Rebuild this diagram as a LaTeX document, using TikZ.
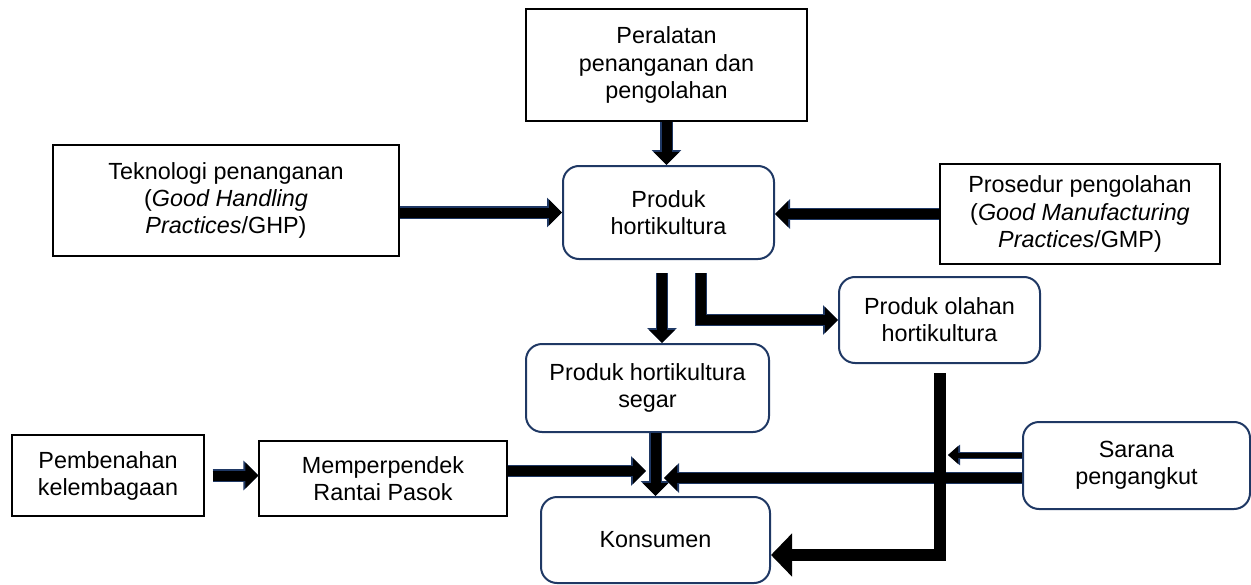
\documentclass[tikz,border=0pt]{standalone}
\usepackage{fontspec}
\setmainfont{Liberation Sans}
\usetikzlibrary{arrows.meta,calc}
\definecolor{navyline}{RGB}{31,56,100}

\begin{document}
\begin{tikzpicture}[
		every node/.style={align=center, inner sep=0pt, font=\fontsize{13.3}{15.4}\selectfont},
		sqbox/.style={rectangle, draw=black, line width=0.6pt},
		rbox/.style={rectangle, rounded corners=0.32cm, draw=navyline, line width=0.04cm},
		flow/.style={draw=black, line width=0.2cm, -{Triangle[width=0.5cm, length=0.26cm]},
			preaction={draw=navyline, line width=0.25cm, -{Triangle[width=0.58cm, length=0.3cm]}}},
		thinflow/.style={draw=black, line width=0.1cm, -{Triangle[width=0.34cm, length=0.2cm]},
			preaction={draw=navyline, line width=0.14cm, -{Triangle[width=0.4cm, length=0.24cm]}}},
		bigflow/.style={draw=black, line width=0.24cm, -{Triangle[width=0.84cm, length=0.42cm]}}
	]
  \useasboundingbox (0cm, 0cm) rectangle (25.02cm, 11.68cm);
  % boxes
  \node (peralatan) [sqbox, minimum width=5.62cm, minimum height=2.24cm] at (13.33cm, 10.38cm) {Peralatan\\penanganan dan\\pengolahan};
  \node (teknologi) [sqbox, minimum width=6.92cm, minimum height=2.22cm] at (4.52cm, 7.67cm) {Teknologi penanganan\\(\textit{Good Handling}\\\textit{Practices}/GHP)};
  \node (produk) [rbox, minimum width=4.22cm, minimum height=1.86cm] at (13.37cm, 7.43cm) {Produk\\hortikultura};
  \node (prosedur) [sqbox, minimum width=5.6cm, minimum height=2cm] at (21.6cm, 7.4cm) {Prosedur pengolahan\\(\textit{Good Manufacturing}\\\textit{Practices}/GMP)};
  \node (olahan) [rbox, minimum width=4.02cm, minimum height=1.72cm] at (18.79cm, 5.28cm) {Produk olahan\\hortikultura};
  \node (segar) [rbox, minimum width=4.86cm, minimum height=1.76cm] at (12.95cm, 3.92cm) {Produk hortikultura\\segar};
  \node (pembenahan) [sqbox, minimum width=3.84cm, minimum height=1.62cm] at (2.16cm, 2.17cm) {Pembenahan\\kelembagaan};
  \node (memperpendek) [sqbox, minimum width=4.96cm, minimum height=1.5cm] at (7.66cm, 2.11cm) {Memperpendek\\Rantai Pasok};
  \node (sarana) [rbox, minimum width=4.54cm, minimum height=1.74cm] at (22.73cm, 2.37cm) {Sarana\\pengangkut};
  \node (konsumen) [rbox, minimum width=4.58cm, minimum height=1.72cm] at (13.11cm, 0.88cm) {Konsumen};
  % arrow ends
  \coordinate (p_split) at ($(produk.south)+(-0.13cm, -0.26cm)$);
  \coordinate (p_side) at ($(produk.south)+(0.65cm, -0.26cm)$);
  \coordinate (m_in) at ($(konsumen.north)+(-0.19cm, 0.5cm)$);
  \coordinate (s_in) at ($(konsumen.north)+(0.17cm, 0.36cm)$);
  \coordinate (s_stop) at ($(olahan.south |- sarana.west)+(0.17cm, 0.21cm)$);
  \coordinate (o_start) at ($(olahan.south)+(0cm, -0.18cm)$);
  \coordinate (k_side) at ($(konsumen.east)+(0cm, -0.3cm)$);
  % arrows
  \draw [flow] (peralatan.south) -- (peralatan.south |- produk.north);
  \draw [flow] (teknologi.east |- produk.west) -- (produk.west);
  \draw [flow] (prosedur.west) -- (prosedur.west -| produk.east);
  \draw [flow] (p_split) -- (p_split |- segar.north);
  \draw [flow] (p_side) |- (olahan.west);
  \draw [flow] (segar.south -| konsumen.north) -- (konsumen.north);
  \draw [flow, shorten <=0.16cm] (pembenahan.east) -- (pembenahan.east -| memperpendek.west);
  \draw [flow] (memperpendek.east |- m_in) -- (m_in);
  \draw [flow] (sarana.west |- s_in) -- (s_in);
  \draw [thinflow] (sarana.west |- s_stop) -- (s_stop);
  \draw [bigflow] (o_start) |- (k_side);
\end{tikzpicture}
\end{document}
